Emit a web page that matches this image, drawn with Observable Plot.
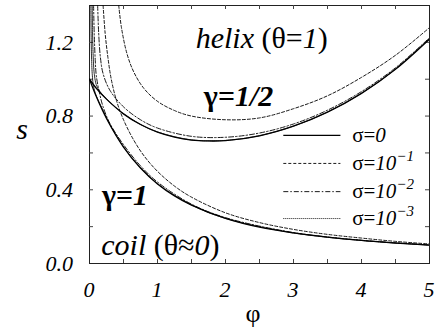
<!DOCTYPE html>
<html><head><meta charset="utf-8">
<script src="https://cdn.jsdelivr.net/npm/d3@7"></script>
<script src="https://cdn.jsdelivr.net/npm/@observablehq/plot@0.6"></script>
<style>
html,body{margin:0;padding:0;background:#fff;}
#chart svg{display:block;background:#fff;}
#chart svg text, #chart svg tspan{font-family:"Liberation Serif",serif !important;}
</style></head><body><div id="chart"></div>
<script>
// ---- data ----
// gamma = 1 (coil branch)
const phiG1S0 = [0, 0.1, 0.25, 0.5, 0.75, 1, 1.25, 1.5, 2, 2.5, 3, 3.5, 4, 4.5, 5];
const sG1S0   = [1.0, 0.906, 0.787, 0.632, 0.518, 0.432, 0.367, 0.317, 0.245, 0.197, 0.166, 0.143, 0.125, 0.111, 0.100];
const phiG1S1 = [0.2, 0.23, 0.27, 0.32, 0.4, 0.5, 0.65, 0.8, 1.0, 1.25, 1.5, 2, 2.5, 3, 3.5, 4, 4.5, 5];
const sG1S1   = [1.40, 1.25, 1.12, 1.00, 0.88, 0.78, 0.67, 0.585, 0.50, 0.42, 0.36, 0.275, 0.222, 0.185, 0.158, 0.138, 0.120, 0.106];
const phiG1S2 = [0.06, 0.07, 0.085, 0.1, 0.15, 0.2, 0.3, 0.5, 0.75, 1, 1.5, 2, 3, 4, 5];
const sG1S2   = [1.40, 1.24, 1.10, 1.02, 0.92, 0.85, 0.76, 0.645, 0.53, 0.442, 0.322, 0.249, 0.168, 0.126, 0.101];
const phiG1S3 = [0.02, 0.024, 0.03, 0.04, 0.06, 0.1, 0.2, 0.3, 0.5, 0.75, 1, 1.5, 2, 3, 4, 5];
const sG1S3   = [1.40, 1.24, 1.12, 1.03, 0.96, 0.91, 0.83, 0.755, 0.634, 0.519, 0.433, 0.318, 0.245, 0.166, 0.125, 0.100];
// gamma = 1/2 (helix branch)
const phiG2S0 = [0, 0.1, 0.25, 0.5, 0.75, 1, 1.25, 1.5, 1.75, 2, 2.5, 3, 3.5, 4, 4.5, 5];
const sG2S0   = [1.0, 0.951, 0.892, 0.812, 0.754, 0.713, 0.686, 0.670, 0.665, 0.667, 0.693, 0.745, 0.821, 0.923, 1.054, 1.218];
const phiG2S1 = [0.43, 0.47, 0.55, 0.65, 0.8, 1.0, 1.25, 1.5, 2.0, 2.5, 3.0, 3.5, 4.0, 4.5, 5.0];
const sG2S1   = [1.40, 1.28, 1.14, 1.04, 0.95, 0.88, 0.83, 0.80, 0.78, 0.79, 0.84, 0.91, 1.01, 1.13, 1.28];
const phiG2S2 = [0.12, 0.135, 0.16, 0.2, 0.3, 0.5, 0.75, 1, 1.5, 2, 2.5, 3, 3.5, 4, 4.5, 5];
const sG2S2   = [1.40, 1.25, 1.12, 1.03, 0.94, 0.85, 0.78, 0.735, 0.69, 0.685, 0.708, 0.757, 0.832, 0.933, 1.062, 1.225];
const phiG2S3 = [0.04, 0.045, 0.055, 0.07, 0.1, 0.15, 0.25, 0.5, 0.75, 1, 1.5, 2, 2.5, 3, 3.5, 4, 4.5, 5];
const sG2S3   = [1.40, 1.25, 1.12, 1.03, 0.97, 0.935, 0.893, 0.813, 0.755, 0.714, 0.671, 0.668, 0.694, 0.746, 0.822, 0.924, 1.055, 1.219];

const sigmaLabels = ["σ=0", "σ=10-1", "σ=10-2", "σ=10-3"];
const xTickLabels = [0, 1, 2, 3, 4, 5];
const yTickLabels = [0, 0.4, 0.8, 1.2];
const xMinorTicks = [0.5, 1, 1.5, 2, 2.5, 3, 3.5, 4, 4.5];
const yMinorTicks = [0.2, 0.4, 0.6, 0.8, 1.0, 1.2];
const annotations = [
  {text: "helix (θ=1)", phi: 2.54, s: 1.225, bold: false},
  {text: "γ=1/2", phi: 2.2, s: 0.91, bold: true},
  {text: "γ=1", phi: 0.53, s: 0.37, bold: true},
  {text: "coil (θ≈0)", phi: 1.05, s: 0.098, bold: false}
];
// legend placement (data units)
const legendX1 = 2.85, legendX2 = 3.69, legendTextX = 3.87;
const legendS = [0.695, 0.543, 0.39, 0.244];

// ---- styles ----
const FONT = "Liberation Serif";
const styles = [
  {dash: null, width: 1.3},
  {dash: "3,2", width: 0.9},
  {dash: "5,2,1.5,2", width: 0.9},
  {dash: "1,1", width: 0.9}
];
const series = [
  [phiG1S0, sG1S0, 0], [phiG1S1, sG1S1, 1], [phiG1S2, sG1S2, 2], [phiG1S3, sG1S3, 3],
  [phiG2S0, sG2S0, 0], [phiG2S1, sG2S1, 1], [phiG2S2, sG2S2, 2], [phiG2S3, sG2S3, 3]
];

const W = 437, H = 332, mt = 5, mr = 8, mb = 69, ml = 89;
const plotW = W - ml - mr, plotH = H - mt - mb, TK = 4;

const lineMarks = series.map(([px, py, k]) => Plot.line(px.map((p, i) => ({phi: p, s: py[i]})), {
  x: "phi", y: "s", stroke: "black", strokeWidth: styles[k].width,
  strokeDasharray: styles[k].dash ?? undefined, curve: "catmull-rom", clip: true
}));

const legendMarks = sigmaLabels.map((lab, i) => Plot.link([{x1: legendX1, x2: legendX2, y: legendS[i]}], {
  x1: "x1", x2: "x2", y1: "y", y2: "y", stroke: "black", strokeWidth: styles[i].width,
  strokeDasharray: styles[i].dash ?? undefined
}));

const chart = Plot.plot({
  width: W, height: H, marginTop: mt, marginRight: mr, marginBottom: mb, marginLeft: ml,
  x: {domain: [0, 5], axis: null},
  y: {domain: [0, 1.4], axis: null},
  style: {fontFamily: FONT},
  marks: [
    Plot.frame({stroke: "#222", strokeWidth: 1}),
    Plot.tickX(xMinorTicks, {x: d => d, insetTop: plotH - TK, stroke: "#444"}),
    Plot.tickX(xMinorTicks, {x: d => d, insetBottom: plotH - TK, stroke: "#444"}),
    Plot.tickY(yMinorTicks, {y: d => d, insetRight: plotW - TK, stroke: "#444"}),
    Plot.tickY(yMinorTicks, {y: d => d, insetLeft: plotW - TK, stroke: "#444"}),
    ...lineMarks,
    ...legendMarks
  ]
});
chart.setAttribute("font-family", FONT);
document.getElementById("chart").appendChild(chart);

// ---- texts (serif), placed through the chart's own scales ----
const X = chart.scale("x"), Y = chart.scale("y");
const NS = "http://www.w3.org/2000/svg";
function addText(x, y, parts, o = {}) {
  const el = document.createElementNS(NS, "text");
  el.setAttribute("x", x); el.setAttribute("y", y);
  el.setAttribute("font-family", FONT);
  el.setAttribute("font-size", o.size || 22);
  el.setAttribute("text-anchor", o.anchor || "middle");
  el.setAttribute("fill", "black");
  if (o.weight) el.setAttribute("font-weight", o.weight);
  el.setAttribute("dy", "0.35em");
  for (const p of parts) {
    const t = document.createElementNS(NS, "tspan");
    t.textContent = p.t;
    t.setAttribute("font-family", FONT);
    if (p.i) t.setAttribute("font-style", "italic");
    if (p.dy) t.setAttribute("dy", p.dy);
    if (p.fs) t.setAttribute("font-size", p.fs);
    el.appendChild(t);
  }
  chart.appendChild(el);
}
// tick labels
yTickLabels.forEach(v => addText(ml - 16, Y.apply(v), [{t: v.toFixed(1), i: true}], {anchor: "end", size: 22}));
xTickLabels.forEach(v => addText(X.apply(v), H - mb + 26, [{t: String(v), i: true}], {size: 22}));
// axis labels
addText((ml + W - mr) / 2 - 6, H - 19, [{t: "φ"}], {size: 26});
addText(22, mt + plotH / 2 - 6, [{t: "s", i: true}], {size: 30});
// legend labels
sigmaLabels.forEach((lab, i) => {
  const parts = lab === "σ=0" ? [{t: "σ="}, {t: "0", i: true}]
    : [{t: "σ="}, {t: "10", i: true}, {t: "−" + lab.split("-")[1], i: true, dy: "-9", fs: "15"}];
  addText(X.apply(legendTextX), Y.apply(legendS[i]), parts, {anchor: "start", size: 21});
});
// annotations
annotations.forEach(a => {
  let parts;
  if (a.text.startsWith("helix")) parts = [{t: "helix", i: true}, {t: " (θ="}, {t: "1", i: true}, {t: ")"}];
  else if (a.text.startsWith("coil")) parts = [{t: "coil", i: true}, {t: " (θ≈"}, {t: "0", i: true}, {t: ")"}];
  else { const [g, v] = a.text.split("="); parts = [{t: g + "="}, {t: v, i: true}]; }
  addText(X.apply(a.phi), Y.apply(a.s), parts, {size: 30, weight: a.bold ? "bold" : null});
});
</script></body></html>
